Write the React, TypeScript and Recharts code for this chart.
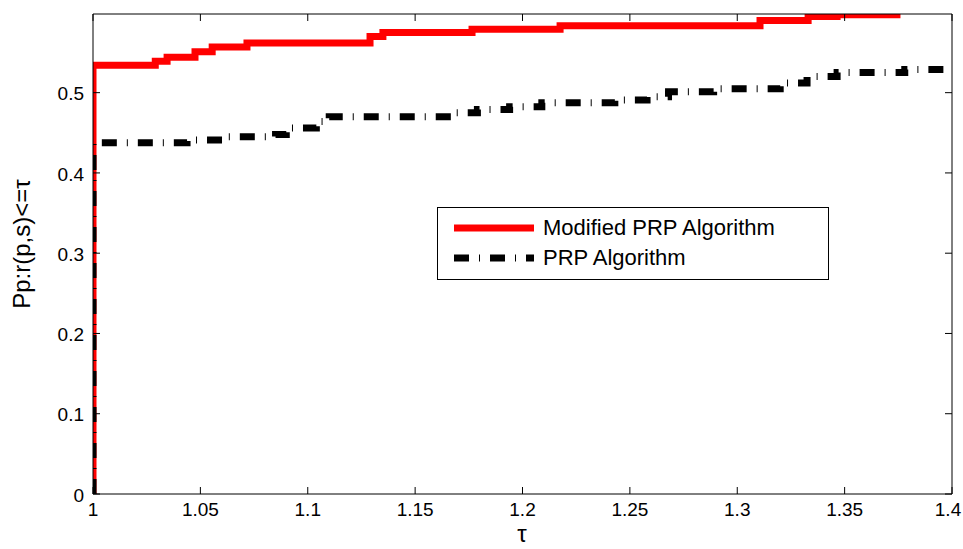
import React from 'react';
import { LineChart, Line, XAxis, YAxis } from 'recharts';

// performance profile
const modifiedTau = [1, 1, 1.029, 1.0345, 1.0475, 1.0555, 1.0717, 1.129, 1.135, 1.1765, 1.2175, 1.3106, 1.333, 1.3465, 1.376];
const modifiedRho = [0, 0.534, 0.539, 0.544, 0.551, 0.557, 0.562, 0.57, 0.575, 0.579, 0.5835, 0.59, 0.595, 0.597, 0.597];

const prpTau = [1, 1, 1.0438, 1.0624, 1.085, 1.09, 1.104, 1.11, 1.165, 1.179, 1.194, 1.209, 1.243, 1.258, 1.268, 1.289, 1.32, 1.3325, 1.3465, 1.378, 1.4];
const prpRho = [0, 0.4375, 0.441, 0.445, 0.448, 0.456, 0.464, 0.47, 0.475, 0.479, 0.4826, 0.4875, 0.491, 0.495, 0.501, 0.505, 0.512, 0.52, 0.525, 0.529, 0.529];

const xTicks = [1, 1.05, 1.1, 1.15, 1.2, 1.25, 1.3, 1.35, 1.4];
const yTicks = [0, 0.1, 0.2, 0.3, 0.4, 0.5];
const seriesNames = ['Modified PRP Algorithm', 'PRP Algorithm'];

const modifiedData = modifiedTau.map((t, i) => ({ tau: t, rho: modifiedRho[i] }));
const prpData = prpTau.map((t, i) => ({ tau: t, rho: prpRho[i] }));

const FONT = '"Liberation Sans", Arial, sans-serif';
const TICK = 7;

const BottomTick = (props: any) => {
  const { x, y, payload } = props;
  // keep the last label inside the 963px window
  const tx = Math.min(x, 948);
  return (
    <g>
      <line x1={x} y1={y} x2={x} y2={y - TICK} stroke='#000' />
      <text x={tx} y={y + 22} textAnchor='middle' fontSize={19} fontFamily={FONT} fill='#000'>
        {String(payload.value)}
      </text>
    </g>
  );
};

const LeftTick = (props: any) => {
  const { x, y, payload } = props;
  return (
    <g>
      <line x1={x} y1={y} x2={x + TICK} y2={y} stroke='#000' />
      <text x={x - 9} y={y} dy='0.4em' textAnchor='end' fontSize={19} fontFamily={FONT} fill='#000'>
        {String(payload.value)}
      </text>
    </g>
  );
};

const TopTick = (props: any) => {
  const { x, y } = props;
  return <line x1={x} y1={y} x2={x} y2={y + TICK} stroke='#000' />;
};

const RightTick = (props: any) => {
  const { x, y } = props;
  return <line x1={x} y1={y} x2={x - TICK} y2={y} stroke='#000' />;
};

const YLabel = () => (
  <text
    x={21}
    y={244}
    transform='rotate(-90 21 244)'
    textAnchor='middle'
    dominantBaseline='central'
    fontSize={24}
    fontFamily={FONT}
    fill='#000'
  >
    Pp:r(p,s)&lt;=τ
  </text>
);

const XLabel = () => (
  <text x={522} y={542} textAnchor='middle' fontSize={24} fontFamily={FONT} fill='#000'>
    τ
  </text>
);

function Legend() {
  const row = (i: number, stroke: string, dash?: string) => (
    <div style={{ position: 'absolute', left: 0, top: i === 0 ? 7 : 37, height: 26, display: 'flex', alignItems: 'center' }}>
      <svg width={105} height={26}>
        <line x1={16} y1={13} x2={96} y2={13} stroke={stroke} strokeWidth={7} strokeDasharray={dash} />
      </svg>
      <span style={{ fontFamily: FONT, fontSize: 22, color: '#000', whiteSpace: 'nowrap' }}>{seriesNames[i]}</span>
    </div>
  );
  return (
    <div
      style={{
        position: 'absolute',
        left: 437,
        top: 207,
        width: 390,
        height: 71,
        border: '1px solid #000',
        background: '#fff'
      }}
    >
      {row(0, '#ff0000')}
      {row(1, '#000', '15 10 1 10')}
    </div>
  );
}

export default function App() {
  return (
    <div style={{ position: 'absolute', left: 0, top: 0, width: 963, height: 549, background: '#fff' }}>
      <LineChart width={963} height={549} margin={{ top: 13, right: 10, bottom: 0, left: 0 }}>
        <Line
          xAxisId='bottom'
          yAxisId='left'
          data={modifiedData}
          dataKey='rho'
          type='stepAfter'
          stroke='#ff0000'
          strokeWidth={7}
          dot={false}
          isAnimationActive={false}
        />
        <Line
          xAxisId='bottom'
          yAxisId='left'
          data={prpData}
          dataKey='rho'
          type='stepAfter'
          stroke='#000'
          strokeWidth={7}
          strokeDasharray='15 10 1 10'
          dot={false}
          isAnimationActive={false}
        />
        <XAxis
          xAxisId='bottom'
          dataKey='tau'
          type='number'
          domain={[1, 1.4]}
          ticks={xTicks}
          allowDataOverflow
          height={55}
          tickSize={0}
          tickMargin={0}
          tick={<BottomTick />}
          axisLine={{ stroke: '#000' }}
          tickLine={false}
          label={<XLabel />}
        />
        <XAxis
          xAxisId='top'
          orientation='top'
          dataKey='tau'
          type='number'
          domain={[1, 1.4]}
          ticks={xTicks}
          allowDataOverflow
          height={1}
          tickSize={0}
          tickMargin={0}
          tick={<TopTick />}
          axisLine={{ stroke: '#000' }}
          tickLine={false}
        />
        <YAxis
          yAxisId='left'
          type='number'
          domain={[0, 0.598]}
          ticks={yTicks}
          allowDataOverflow
          width={93}
          tickSize={0}
          tickMargin={0}
          tick={<LeftTick />}
          axisLine={{ stroke: '#000' }}
          tickLine={false}
          label={<YLabel />}
        />
        <YAxis
          yAxisId='right'
          orientation='right'
          type='number'
          domain={[0, 0.598]}
          ticks={yTicks}
          allowDataOverflow
          width={1}
          tickSize={0}
          tickMargin={0}
          tick={<RightTick />}
          axisLine={{ stroke: '#000' }}
          tickLine={false}
        />
      </LineChart>
      <Legend />
    </div>
  );
}
